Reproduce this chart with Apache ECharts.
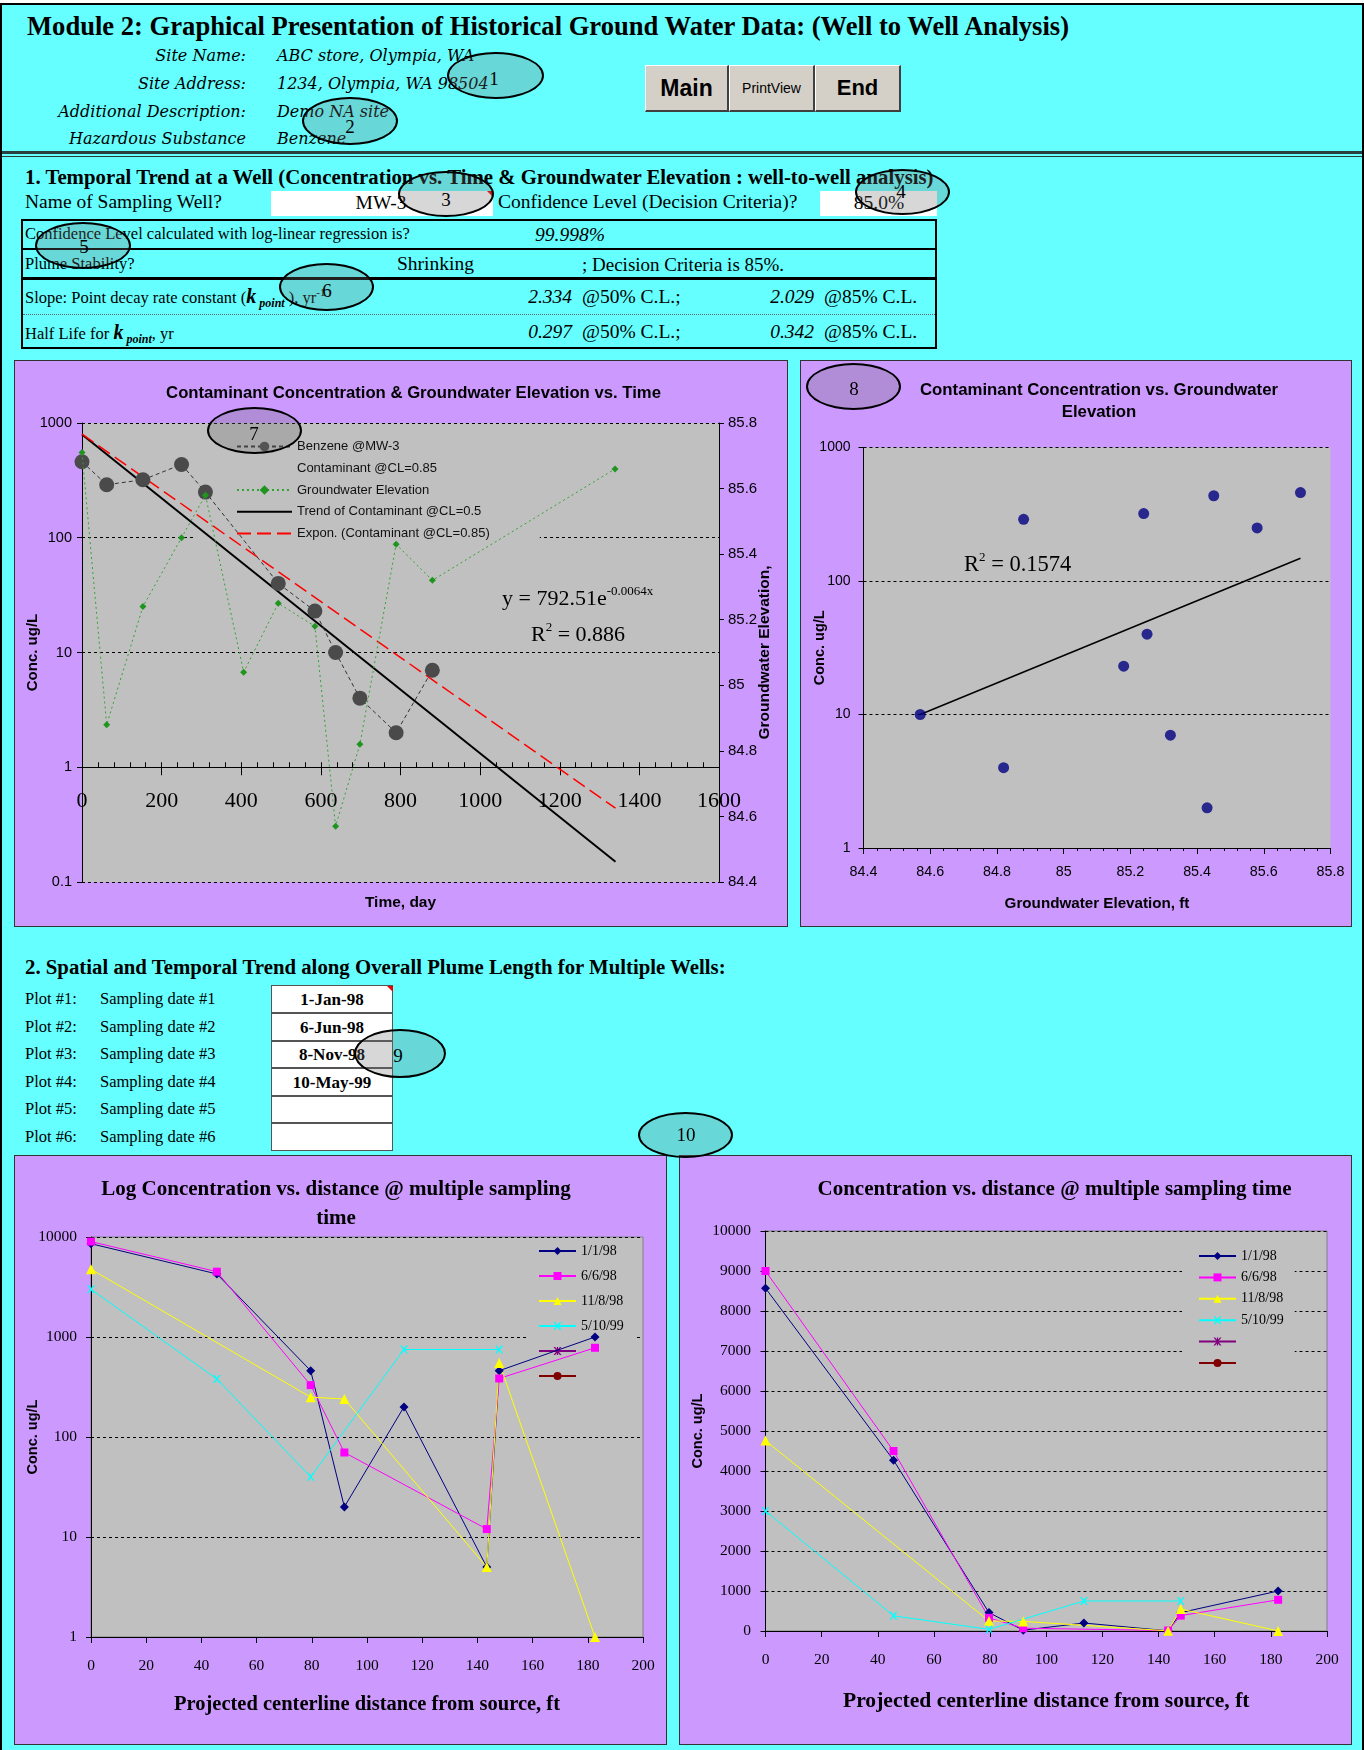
<!DOCTYPE html>
<html>
<head>
<meta charset="utf-8">
<title>Module 2: Graphical Presentation of Historical Ground Water Data</title>
<script src="https://cdn.jsdelivr.net/npm/echarts@6/dist/echarts.min.js"></script>
<style>
  html, body { margin: 0; padding: 0; background: #fff; }
  body { position: relative; width: 1364px; height: 1750px; overflow: hidden; }
  .blk { position: absolute; }
  .t { position: absolute; white-space: nowrap; line-height: 1; transform: translateY(-50%); color: #000; }
  .tc { position: absolute; white-space: nowrap; line-height: 1; transform: translate(-50%, -50%); color: #000; }
  .tr { position: absolute; white-space: nowrap; line-height: 1; transform: translate(-100%, -50%); color: #000; }
  .serif { font-family: "Liberation Serif", "Times New Roman", Times, serif; }
  .dv { font-family: "DejaVu Serif", "Bookman Old Style", serif; font-style: italic; font-size: 16px; }
  .it { font-style: italic; }
  .bd { font-weight: bold; }
  .btn { position: absolute; box-sizing: border-box; top: 65px; height: 47px; background: #D4D0C8;
         border-top: 1px solid #fff; border-left: 1px solid #fff; border-right: 2px solid #404040; border-bottom: 2px solid #404040;
         display: flex; align-items: center; justify-content: center; font-family: "Liberation Sans", Arial, sans-serif; color: #000; }
  .chartbox { position: absolute; background: #CC99FF; outline: 1px solid #333; }
  .oval { position: absolute; box-sizing: border-box; border: 2px solid #000; border-radius: 50%;
          background: rgba(110,110,110,0.28); z-index: 10; }
  .num { z-index: 11; font-size: 19px; }
  .cell { position: absolute; box-sizing: border-box; background: #fff; }
  sub, sup { line-height: 0; }
</style>
</head>
<body>
<!-- page frame -->
<div class="blk" style="left:2px;top:5px;width:1360px;height:1745px;background:#66FFFF"></div>
<div class="blk" style="left:0;top:3px;width:1364px;height:2px;background:#000"></div>
<div class="blk" style="left:0;top:3px;width:2px;height:1747px;background:#000"></div>
<div class="blk" style="left:1362px;top:3px;width:2px;height:1747px;background:#000"></div>

<!-- header -->
<div class="t serif bd" style="left:27px;top:26px;font-size:26.6px">Module 2: Graphical Presentation of Historical Ground Water Data: (Well to Well Analysis)</div>
<div class="tr dv" style="left:246px;top:56px">Site Name:</div>
<div class="tr dv" style="left:246px;top:84px">Site Address:</div>
<div class="tr dv" style="left:246px;top:112px">Additional Description:</div>
<div class="tr dv" style="left:246px;top:139px">Hazardous Substance</div>
<div class="t dv" style="left:277px;top:56px">ABC store, Olympia, WA</div>
<div class="t dv" style="left:277px;top:84px">1234, Olympia, WA 98504</div>
<div class="t dv" style="left:277px;top:112px">Demo NA site</div>
<div class="t dv" style="left:277px;top:139px">Benzene</div>

<div class="btn" style="left:645px;width:84px;font-size:23px;font-weight:bold">Main</div>
<div class="btn" style="left:729px;width:86px;font-size:14px">PrintView</div>
<div class="btn" style="left:815px;width:86px;font-size:22px;font-weight:bold">End</div>

<div class="blk" style="left:2px;top:151px;width:1360px;height:3px;background:#2b3f3f"></div>
<div class="blk" style="left:2px;top:156px;width:1360px;height:1px;background:#2b3f3f"></div>

<!-- section 1 -->
<div class="t serif bd" style="left:25px;top:177px;font-size:20.8px">1. Temporal Trend at a Well (Concentration vs. Time &amp; Groundwater Elevation : well-to-well analysis)</div>
<div class="t serif" style="left:25px;top:202px;font-size:19.5px">Name of Sampling Well?</div>
<div class="cell" style="left:271px;top:191px;width:222px;height:25px"></div>
<div class="blk" style="left:487px;top:191px;width:0;height:0;border-top:6px solid #e00;border-left:6px solid transparent"></div>
<div class="tc serif" style="left:381px;top:203px;font-size:19.5px">MW-3</div>
<div class="t serif" style="left:498px;top:202px;font-size:19.5px">Confidence Level (Decision Criteria)?</div>
<div class="cell" style="left:820px;top:191px;width:117px;height:25px"></div>
<div class="tc serif" style="left:879px;top:203px;font-size:19.5px">85.0%</div>

<div class="blk" style="left:21px;top:219px;width:916px;height:130px;box-sizing:border-box;border:2px solid #000"></div>
<div class="blk" style="left:21px;top:248px;width:916px;height:2px;background:#000"></div>
<div class="blk" style="left:21px;top:277px;width:916px;height:3px;background:#000"></div>
<div class="blk" style="left:23px;top:314px;width:912px;height:0;border-top:1px dotted #666"></div>

<div class="t serif" style="left:25px;top:234px;font-size:16.5px">Confidence Level calculated with log-linear regression is?</div>
<div class="t serif it" style="left:535px;top:235px;font-size:19.5px">99.998%</div>

<div class="t serif" style="left:25px;top:263.5px;font-size:16.5px">Plume Stability?</div>
<div class="t serif" style="left:397px;top:264px;font-size:19.5px">Shrinking</div>
<div class="t serif" style="left:582px;top:264px;font-size:19px">; Decision Criteria is 85%.</div>

<div class="t serif" style="left:25px;top:296px;font-size:16.5px">Slope: Point decay rate constant (<b><i style="font-size:20px">k</i></b><sub><b><i style="font-size:12px"> point</i></b></sub> ), yr<sup style="font-size:11px">-1</sup></div>
<div class="tr serif it" style="left:572px;top:297px;font-size:19.5px">2.334</div>
<div class="t serif" style="left:582px;top:297px;font-size:19.5px">@50% C.L.;</div>
<div class="tr serif it" style="left:814px;top:297px;font-size:19.5px">2.029</div>
<div class="t serif" style="left:824px;top:297px;font-size:19.5px">@85% C.L.</div>

<div class="t serif" style="left:25px;top:331.5px;font-size:16.5px">Half Life for <b><i style="font-size:20px">k</i></b><sub><b><i style="font-size:12px"> point</i></b></sub>, yr</div>
<div class="tr serif it" style="left:572px;top:332px;font-size:19.5px">0.297</div>
<div class="t serif" style="left:582px;top:332px;font-size:19.5px">@50% C.L.;</div>
<div class="tr serif it" style="left:814px;top:332px;font-size:19.5px">0.342</div>
<div class="t serif" style="left:824px;top:332px;font-size:19.5px">@85% C.L.</div>

<!-- charts of section 1 -->
<div class="chartbox" style="left:15px;top:361px;width:772px;height:565px"><div id="chartTime" style="width:772px;height:565px"></div></div>
<div class="chartbox" style="left:801px;top:361px;width:550px;height:565px"><div id="chartElev" style="width:550px;height:565px"></div></div>

<!-- section 2 -->
<div class="t serif bd" style="left:25px;top:967px;font-size:20.8px">2. Spatial and Temporal Trend along Overall Plume Length for Multiple Wells:</div>
<div class="t serif" style="left:25px;top:999px;font-size:16.5px">Plot #1:</div>
<div class="t serif" style="left:100px;top:999px;font-size:16.5px">Sampling date #1</div>
<div class="t serif" style="left:25px;top:1026.5px;font-size:16.5px">Plot #2:</div>
<div class="t serif" style="left:100px;top:1026.5px;font-size:16.5px">Sampling date #2</div>
<div class="t serif" style="left:25px;top:1054px;font-size:16.5px">Plot #3:</div>
<div class="t serif" style="left:100px;top:1054px;font-size:16.5px">Sampling date #3</div>
<div class="t serif" style="left:25px;top:1081.5px;font-size:16.5px">Plot #4:</div>
<div class="t serif" style="left:100px;top:1081.5px;font-size:16.5px">Sampling date #4</div>
<div class="t serif" style="left:25px;top:1109px;font-size:16.5px">Plot #5:</div>
<div class="t serif" style="left:100px;top:1109px;font-size:16.5px">Sampling date #5</div>
<div class="t serif" style="left:25px;top:1136.5px;font-size:16.5px">Plot #6:</div>
<div class="t serif" style="left:100px;top:1136.5px;font-size:16.5px">Sampling date #6</div>

<div class="cell" style="left:271px;top:985px;width:122px;height:166px;border:1px solid #555"></div>
<div class="blk" style="left:271px;top:1012px;width:122px;height:2px;background:#555"></div>
<div class="blk" style="left:271px;top:1039.5px;width:122px;height:2px;background:#555"></div>
<div class="blk" style="left:271px;top:1067px;width:122px;height:2px;background:#555"></div>
<div class="blk" style="left:271px;top:1094.5px;width:122px;height:2px;background:#555"></div>
<div class="blk" style="left:271px;top:1122px;width:122px;height:2px;background:#555"></div>
<div class="blk" style="left:387px;top:986px;width:0;height:0;border-top:6px solid #e00;border-left:6px solid transparent"></div>
<div class="tc serif bd" style="left:332px;top:999px;font-size:17px">1-Jan-98</div>
<div class="tc serif bd" style="left:332px;top:1026.5px;font-size:17px">6-Jun-98</div>
<div class="tc serif bd" style="left:332px;top:1054px;font-size:17px">8-Nov-98</div>
<div class="tc serif bd" style="left:332px;top:1081.5px;font-size:17px">10-May-99</div>

<div class="chartbox" style="left:15px;top:1156px;width:651px;height:588px"><div id="chartLog" style="width:651px;height:588px"></div></div>
<div class="chartbox" style="left:680px;top:1156px;width:671px;height:588px"><div id="chartLin" style="width:671px;height:588px"></div></div>

<!-- numbered callouts -->
<div class="oval" style="left:447px;top:52px;width:97px;height:47px"></div>
<div class="tc serif num" style="left:494px;top:78px">1</div>
<div class="oval" style="left:302px;top:97px;width:96px;height:48px"></div>
<div class="tc serif num" style="left:350px;top:126px">2</div>
<div class="oval" style="left:398px;top:171px;width:96px;height:46px"></div>
<div class="tc serif num" style="left:446px;top:199px">3</div>
<div class="oval" style="left:855px;top:169px;width:95px;height:46px"></div>
<div class="tc serif num" style="left:901px;top:191px">4</div>
<div class="oval" style="left:35px;top:222px;width:96px;height:47px"></div>
<div class="tc serif num" style="left:84px;top:246px">5</div>
<div class="oval" style="left:279px;top:263px;width:95px;height:48px"></div>
<div class="tc serif num" style="left:327px;top:290px">6</div>
<div class="oval" style="left:207px;top:407px;width:95px;height:47px"></div>
<div class="tc serif num" style="left:254px;top:433px">7</div>
<div class="oval" style="left:806px;top:363px;width:95px;height:47px"></div>
<div class="tc serif num" style="left:854px;top:388px">8</div>
<div class="oval" style="left:354px;top:1029px;width:92px;height:49px"></div>
<div class="tc serif num" style="left:398px;top:1055px">9</div>
<div class="oval" style="left:638px;top:1112px;width:95px;height:46px"></div>
<div class="tc serif num" style="left:686px;top:1134px">10</div>

<script>
const SANS = '"Liberation Sans", Arial, Helvetica, sans-serif';
const SERIF = '"Liberation Serif", "Times New Roman", Times, serif';

// ---- Section 1: benzene history at MW-3 ----
const sampleDays = [0, 62, 153, 250, 310, 493, 585, 637, 698, 789, 880];
const benzeneConc = [460, 290, 320, 435, 250, 40, 23, 10, 4, 2, 7];
const gwDays = [0, 62, 153, 250, 310, 406, 493, 585, 637, 698, 789, 880, 1339];
const gwElev = [85.71, 84.88, 85.24, 85.45, 85.58, 85.04, 85.25, 85.18, 84.57, 84.82, 85.43, 85.32, 85.66];
// fitted decay lines (end points)
const trend50Days = [0, 1340];
const trend50Conc = [792.51, 0.15];
const trend85Days = [0, 1340];
const trend85Conc = [800, 0.44];
// concentration vs. elevation regression line (end points)
const fitElev = [84.57, 85.71];
const fitConc = [10, 148];

// ---- Section 2: concentration along the plume centerline ----
const distances = [0, 45.6, 79.6, 91.8, 113.4, 143.4, 147.9, 182.6];
const dateLabels = ['1/1/98', '6/6/98', '11/8/98', '5/10/99', ' ', '  '];
const conc980101 = [8570, 4270, 460, 20, 200, 5, 460, 1000];
const conc980606 = [9000, 4500, 330, 70, null, 12, 385, 780];
const conc981108 = [4760, null, 250, 240, null, 5, 550, 1];
const conc990510 = [3000, 380, 40, null, 750, null, 750, null];
const concPlot5 = [];
const concPlot6 = [];

const zip = (xs, ys) => xs.map((x, i) => [x, ys[i]]).filter(p => p[1] !== null && p[1] !== undefined);
const BLACK = '#000';
const X_MARK = 'path://M0,0L2,0L5,3.5L8,0L10,0L6,5L10,10L8,10L5,6.5L2,10L0,10L4,5Z';
const STAR_MARK = 'path://M0,0L2,0L5,3.5L8,0L10,0L6,5L10,10L8,10L5,6.5L2,10L0,10L4,5Z M4.2,0L5.8,0L5.8,10L4.2,10Z';

function txt(x, y, text, font, align) {
  return {
    type: 'text', x: x, y: y, z: 50, silent: true,
    style: { text: text, font: font, fill: BLACK, align: align || 'center', verticalAlign: 'middle',
             textAlign: align || 'center', textVerticalAlign: 'middle' }
  };
}
function richTxt(x, y, text, size) {
  return {
    type: 'text', x: x, y: y, z: 50, silent: true,
    style: {
      text: text, fill: BLACK, align: 'left', verticalAlign: 'middle', textAlign: 'left', textVerticalAlign: 'middle',
      font: size + 'px ' + SERIF,
      rich: {
        m: { fontSize: size, fontFamily: SERIF, lineHeight: size + 6, fill: BLACK },
        s: { fontSize: 13, fontFamily: SERIF, verticalAlign: 'top', fill: BLACK }
      }
    }
  };
}
// plot rectangles are placed exactly where given
const plotRect = (o) => Object.assign({ containLabel: false, outerBoundsMode: 'none' }, o);
// axis titles sit at a fixed distance from the axis line
const named = (o) => Object.assign({ nameLocation: 'middle', nameMoveOverlap: false }, o);
const axisName = (size, fam) => ({ fontFamily: fam || SANS, fontWeight: 'bold', fontSize: size, color: BLACK });
const dashed = { show: true, lineStyle: { color: BLACK, type: [3, 3], width: 1 } };
const solidLine = { show: true, onZero: false, lineStyle: { color: BLACK, width: 1 } };
const tickOut = (len) => ({ show: true, length: len, lineStyle: { color: BLACK } });
const plainNum = (v) => String(+Number(v).toPrecision(6));

// ---------- Concentration & groundwater elevation vs. time ----------
const chartTime = echarts.init(document.getElementById('chartTime'));
chartTime.setOption({
  animation: false,
  graphic: [
    txt(398.5, 32, 'Contaminant Concentration & Groundwater Elevation vs. Time', 'bold 16.7px ' + SANS),
    richTxt(487, 238, '{m|y = 792.51e}{s|-0.0064x}', 22),
    richTxt(516, 274, '{m|R}{s|2}{m| = 0.886}', 22)
  ],
  grid: [
    plotRect({ left: 67, top: 62, width: 637, height: 459, show: true, backgroundColor: '#C0C0C0', borderWidth: 0 }),
    plotRect({ left: 67, top: 62, width: 637, height: 344.25, show: false })
  ],
  xAxis: [
    named({ type: 'value', gridIndex: 0, min: 0, max: 1600,
      axisLine: { show: false }, axisTick: { show: false }, axisLabel: { show: false }, splitLine: { show: false },
      name: 'Time, day', nameGap: 13, nameTextStyle: axisName(15.5) }),
    { type: 'value', gridIndex: 1, min: 0, max: 1600, interval: 200, position: 'bottom',
      axisLine: solidLine, axisTick: tickOut(8), splitLine: { show: false },
      axisLabel: { margin: 23, fontFamily: SERIF, fontSize: 22, color: BLACK, formatter: plainNum } },
    { type: 'value', gridIndex: 1, min: 0, max: 1600, interval: 200, position: 'bottom',
      axisLine: { show: false }, axisLabel: { show: false }, splitLine: { show: false },
      axisTick: { show: true, inside: true, length: 5, lineStyle: { color: BLACK } },
      minorTick: { show: true, splitNumber: 5, length: 5, lineStyle: { color: BLACK } } }
  ],
  yAxis: [
    named({ type: 'log', logBase: 10, gridIndex: 0, min: 0.1, max: 1000, position: 'left',
      axisLine: solidLine, axisTick: tickOut(5), splitLine: dashed,
      axisLabel: { margin: 10, fontFamily: SANS, fontSize: 14.5, color: BLACK, formatter: plainNum },
      name: 'Conc. ug/L', nameGap: 42, nameRotate: 90, nameTextStyle: axisName(15) }),
    named({ type: 'value', gridIndex: 0, min: 84.4, max: 85.8, interval: 0.2, position: 'right',
      axisLine: solidLine, axisTick: tickOut(5), splitLine: { show: false },
      axisLabel: { margin: 9, fontFamily: SANS, fontSize: 15, color: BLACK },
      name: 'Groundwater Elevation,', nameGap: 38, nameRotate: 90, nameTextStyle: axisName(15.5) }),
    { type: 'value', gridIndex: 1, show: false, min: 0, max: 1 }
  ],
  legend: {
    orient: 'vertical', left: 179, top: 71, padding: [8, 50, 8, 42],
    itemWidth: 55, itemHeight: 12, itemGap: 8.75, backgroundColor: '#C0C0C0', z: 1, selectedMode: false,
    textStyle: { fontFamily: SANS, fontSize: 13, lineHeight: 12, color: '#111' },
    data: [
      'Benzene @MW-3',
      { name: 'Contaminant @CL=0.85', itemStyle: { opacity: 0 }, lineStyle: { opacity: 0 } },
      'Groundwater Elevation',
      { name: 'Trend of Contaminant @CL=0.5', itemStyle: { opacity: 0 } },
      { name: 'Expon. (Contaminant @CL=0.85)', itemStyle: { opacity: 0 } }
    ]
  },
  series: [
    { name: 'Trend of Contaminant @CL=0.5', type: 'line', xAxisIndex: 0, yAxisIndex: 0, silent: true,
      data: zip(trend50Days, trend50Conc), symbol: 'circle', showSymbol: false,
      itemStyle: { color: BLACK, opacity: 0 }, lineStyle: { color: BLACK, width: 2 }, z: 3 },
    { name: 'Expon. (Contaminant @CL=0.85)', type: 'line', xAxisIndex: 0, yAxisIndex: 0, silent: true,
      data: zip(trend85Days, trend85Conc), symbol: 'circle', showSymbol: false,
      itemStyle: { color: '#FF0000', opacity: 0 }, lineStyle: { color: '#FF0000', width: 1.5, type: [14, 6] }, z: 3 },
    { name: 'Benzene @MW-3', type: 'line', xAxisIndex: 0, yAxisIndex: 0, silent: true,
      data: zip(sampleDays, benzeneConc), symbol: 'circle', symbolSize: 15,
      itemStyle: { color: '#4a4a4a' }, lineStyle: { color: '#333', width: 1, type: [4, 3] }, z: 4 },
    { name: 'Contaminant @CL=0.85', type: 'line', xAxisIndex: 0, yAxisIndex: 0, silent: true,
      data: [], symbol: 'circle', showSymbol: false, itemStyle: { opacity: 0 }, lineStyle: { opacity: 0 } },
    { name: 'Groundwater Elevation', type: 'line', xAxisIndex: 0, yAxisIndex: 1, silent: true,
      data: zip(gwDays, gwElev), symbol: 'diamond', symbolSize: 7,
      itemStyle: { color: '#1f951f' }, lineStyle: { color: '#34a234', width: 1, type: [2, 3] }, z: 5 }
  ]
});

// ---------- Concentration vs. groundwater elevation ----------
const elevAtSample = sampleDays.map(d => gwElev[gwDays.indexOf(d)]);
const chartElev = echarts.init(document.getElementById('chartElev'));
chartElev.setOption({
  animation: false,
  graphic: [
    txt(298, 29, 'Contaminant Concentration vs. Groundwater', 'bold 16.8px ' + SANS),
    txt(298, 51.5, 'Elevation', 'bold 16.8px ' + SANS),
    richTxt(163, 204, '{m|R}{s|2}{m| = 0.1574}', 22.5)
  ],
  grid: plotRect({ left: 62.5, top: 86.5, width: 467, height: 400.5, show: true, backgroundColor: '#C0C0C0', borderWidth: 0 }),
  xAxis: named({ type: 'value', min: 84.4, max: 85.8, interval: 0.2,
    axisLine: solidLine, axisTick: tickOut(6), splitLine: { show: false },
    minorTick: { show: true, splitNumber: 5, length: 3, lineStyle: { color: BLACK } },
    axisLabel: { margin: 17, fontFamily: SANS, fontSize: 14.3, color: BLACK },
    name: 'Groundwater Elevation, ft', nameGap: 48, nameTextStyle: axisName(15.2) }),
  yAxis: named({ type: 'log', logBase: 10, min: 1, max: 1000,
    axisLine: solidLine, axisTick: tickOut(5), splitLine: dashed,
    axisLabel: { margin: 13, fontFamily: SANS, fontSize: 14, color: BLACK, formatter: plainNum },
    name: 'Conc. ug/L', nameGap: 36, nameRotate: 90, nameTextStyle: axisName(14.5) }),
  series: [
    { type: 'line', data: zip(fitElev, fitConc), showSymbol: false, silent: true,
      lineStyle: { color: BLACK, width: 1.5 }, z: 3 },
    { type: 'scatter', data: zip(elevAtSample, benzeneConc), symbol: 'circle', symbolSize: 11, silent: true,
      itemStyle: { color: '#000080' }, z: 4 }
  ]
});

// ---------- Concentration vs. distance (log and linear) ----------
const plumeSeries = [
  { name: dateLabels[0], values: conc980101, color: '#000080', symbol: 'diamond', size: 9 },
  { name: dateLabels[1], values: conc980606, color: '#FF00FF', symbol: 'rect', size: 8 },
  { name: dateLabels[2], values: conc981108, color: '#FFFF00', symbol: 'triangle', size: 10 },
  { name: dateLabels[3], values: conc990510, color: '#00FFFF', symbol: X_MARK, size: 8 },
  { name: dateLabels[4], values: concPlot5, color: '#800080', symbol: STAR_MARK, size: 8 },
  { name: dateLabels[5], values: concPlot6, color: '#800000', symbol: 'circle', size: 8 }
];
function buildSeries() {
  return plumeSeries.map(s => ({
    name: s.name, type: 'line', silent: true, connectNulls: true,
    data: zip(distances, s.values), symbol: s.symbol, symbolSize: s.size,
    itemStyle: { color: s.color }, lineStyle: { color: s.color, width: 1 }, z: 3
  }));
}
const distAxis = (nameGap, nameSize) => named({
  type: 'value', min: 0, max: 200, interval: 20,
  axisLine: solidLine, axisTick: tickOut(6), splitLine: { show: false },
  axisLabel: { margin: 21, fontFamily: SERIF, fontSize: 15.5, color: BLACK },
  name: 'Projected centerline distance from source, ft', nameGap: nameGap,
  nameTextStyle: axisName(nameSize, SERIF)
});
const plumeLegend = (left, top, gap, padLeft) => ({
  orient: 'vertical', left: left, top: top, padding: [4, 11, 4, padLeft],
  itemWidth: 37, itemHeight: 10, itemGap: gap, backgroundColor: '#C0C0C0', z: 1, selectedMode: false,
  textStyle: { fontFamily: SERIF, fontSize: 14, lineHeight: 10, color: BLACK },
  data: dateLabels
});

const chartLog = echarts.init(document.getElementById('chartLog'));
chartLog.setOption({
  animation: false,
  graphic: [
    txt(321, 34, 'Log Concentration vs. distance @ multiple sampling', 'bold 21px ' + SERIF),
    txt(321, 63, 'time', 'bold 21px ' + SERIF)
  ],
  grid: plotRect({ left: 76, top: 81, width: 552, height: 400, show: true, backgroundColor: '#C0C0C0',
          borderColor: '#808080', borderWidth: 1 }),
  xAxis: distAxis(57, 20.5),
  yAxis: named({ type: 'log', logBase: 10, min: 1, max: 10000,
    axisLine: solidLine, axisTick: tickOut(5), splitLine: dashed,
    axisLabel: { margin: 14, fontFamily: SERIF, fontSize: 15.5, color: BLACK, formatter: plainNum },
    name: 'Conc. ug/L', nameGap: 51, nameRotate: 90, nameTextStyle: axisName(14.5) }),
  legend: plumeLegend(513, 84, 11, 10),
  series: buildSeries()
});

const chartLin = echarts.init(document.getElementById('chartLin'));
chartLin.setOption({
  animation: false,
  graphic: [
    txt(374.5, 34, 'Concentration vs. distance @ multiple sampling time', 'bold 21px ' + SERIF)
  ],
  grid: plotRect({ left: 85.5, top: 75, width: 561.5, height: 400, show: true, backgroundColor: '#C0C0C0',
          borderColor: '#808080', borderWidth: 1 }),
  xAxis: distAxis(59, 21.6),
  yAxis: named({ type: 'value', min: 0, max: 10000, interval: 1000,
    axisLine: solidLine, axisTick: tickOut(5), splitLine: dashed,
    axisLabel: { margin: 14.5, fontFamily: SERIF, fontSize: 15.5, color: BLACK, formatter: plainNum },
    name: 'Conc. ug/L', nameGap: 60, nameRotate: 90, nameTextStyle: axisName(14.5) }),
  legend: plumeLegend(502, 89, 7.4, 16),
  series: buildSeries()
});
</script>
</body>
</html>
